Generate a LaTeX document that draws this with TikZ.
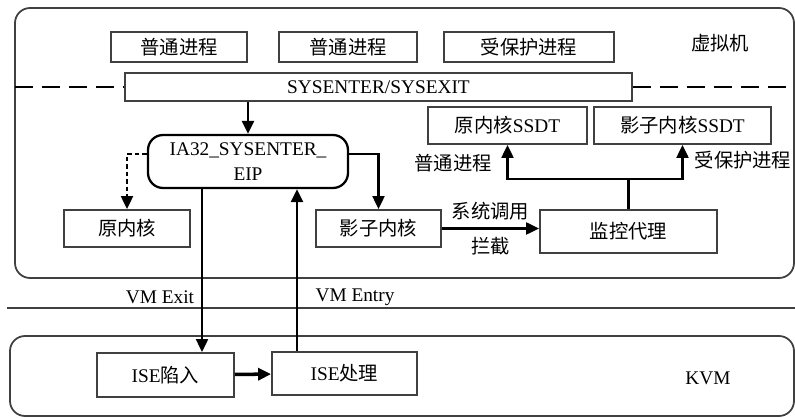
\documentclass[tikz,border=0pt]{standalone}
\usepackage{fontspec}
\setmainfont{Liberation Serif}
\newfontfamily\cjk{Noto Sans CJK SC}
\usetikzlibrary{arrows.meta}
\definecolor{edge}{rgb}{0.25, 0.25, 0.25}

\begin{document}
\begin{tikzpicture}[x=0.02cm, y=-0.02cm,
  every node/.style={font=\fontsize{11pt}{14pt}\selectfont},
  box/.style={draw=edge, line width=1.1pt, inner sep=0pt, minimum height=0.74cm},
  frame/.style={draw=edge, line width=1pt, rounded corners=0.3cm},
  arr/.style={line width=1.3pt, -{Triangle[length=0.26cm, width=0.24cm]}},
  border/.style={line width=1.7pt, dash pattern=on 0.36cm off 0.18cm}]
\useasboundingbox (0, 0) rectangle (795, 418);
\clip (0, 0) rectangle (795, 418);
\draw [frame] (15, 8) rectangle (794, 278);
\draw [frame] (10, 336) rectangle (794, 416);
\draw [edge, line width=1pt] (7, 308) -- (800, 308);
\node [box, minimum width=2.72cm, minimum height=0.6cm] (proc1) at (179, 47) {\cjk 普通进程};
\node [box, minimum width=2.76cm, minimum height=0.6cm] (proc2) at (348, 47) {\cjk 普通进程};
\node [box, minimum width=3.4cm, minimum height=0.6cm] (proc3) at (529, 47) {\cjk 受保护进程};
\node (vm) at (720, 43) {\cjk 虚拟机};
\node [box, minimum width=10.14cm, minimum height=0.56cm] (sys) at (378.5, 87) {SYSENTER/SYSEXIT};
\draw [border] (15, 87) -- (sys.west);
\draw [border] (sys.east) -- (800, 87);
\node [box, draw=black, line width=1.3pt, rounded corners=0.3cm, minimum width=4cm, minimum height=1.06cm, align=center] (eip) at (248, 161.5) {IA32\_SYSENTER\_\\EIP};
\node [box, minimum width=2.52cm] (orig) at (127, 228.5) {\cjk 原内核};
\node [box, minimum width=2.5cm] (shadow) at (378.5, 228.5) {\cjk 影子内核};
\node [box, minimum width=3.54cm, minimum height=0.86cm] (monitor) at (628.5, 231.5) {\cjk 监控代理};
\node [box, minimum width=3.18cm] (ssdt1) at (507.5, 125.5) {{\cjk 原内核}SSDT};
\node [box, minimum width=3.54cm] (ssdt2) at (682.5, 125.5) {{\cjk 影子内核}SSDT};
\node [box, minimum width=2.74cm, minimum height=0.88cm] (trap) at (165.5, 375) {ISE{\cjk 陷入}};
\node [box, minimum width=2.9cm, minimum height=0.86cm] (handle) at (344.5, 373.5) {ISE{\cjk 处理}};
\node (kvm) at (708, 378) {KVM};
\node (normal) at (453, 163) {\cjk 普通进程};
\node (protected) at (743, 160) {\cjk 受保护进程};
\node (vmexit) at (160, 297) {VM Exit};
\node (vmentry) at (355, 297) {VM Entry};
\draw [arr] (eip.north |- sys.south) -- (eip.north);
\draw [arr, dash pattern=on 0.09cm off 0.06cm] ([yshift=0.15cm]eip.west) -| (orig.north);
\draw [arr] ([yshift=0.15cm]eip.east) -| (shadow.north);
\draw [arr] (shadow.east) -- (shadow.east -| monitor.west)
  node [midway, above=1pt] (call) {\cjk 系统调用}
  node [midway, below=1pt] (intercept) {\cjk 拦截};
\coordinate (split) at (628.5, 179);
\draw [line width=1.3pt] (monitor.north) -- (split);
\draw [arr] (split) -| (ssdt1.south);
\draw [arr] (split) -| (ssdt2.south);
\path ([xshift=-0.92cm]eip.south) coordinate (exit);
\draw [arr] (exit) -- (exit |- trap.north);
\path ([xshift=-0.95cm]handle.north) coordinate (entry);
\draw [arr] (entry) -- (entry |- eip.south);
\draw [arr, line width=2pt] (trap) -- (handle);
\end{tikzpicture}
\end{document}
